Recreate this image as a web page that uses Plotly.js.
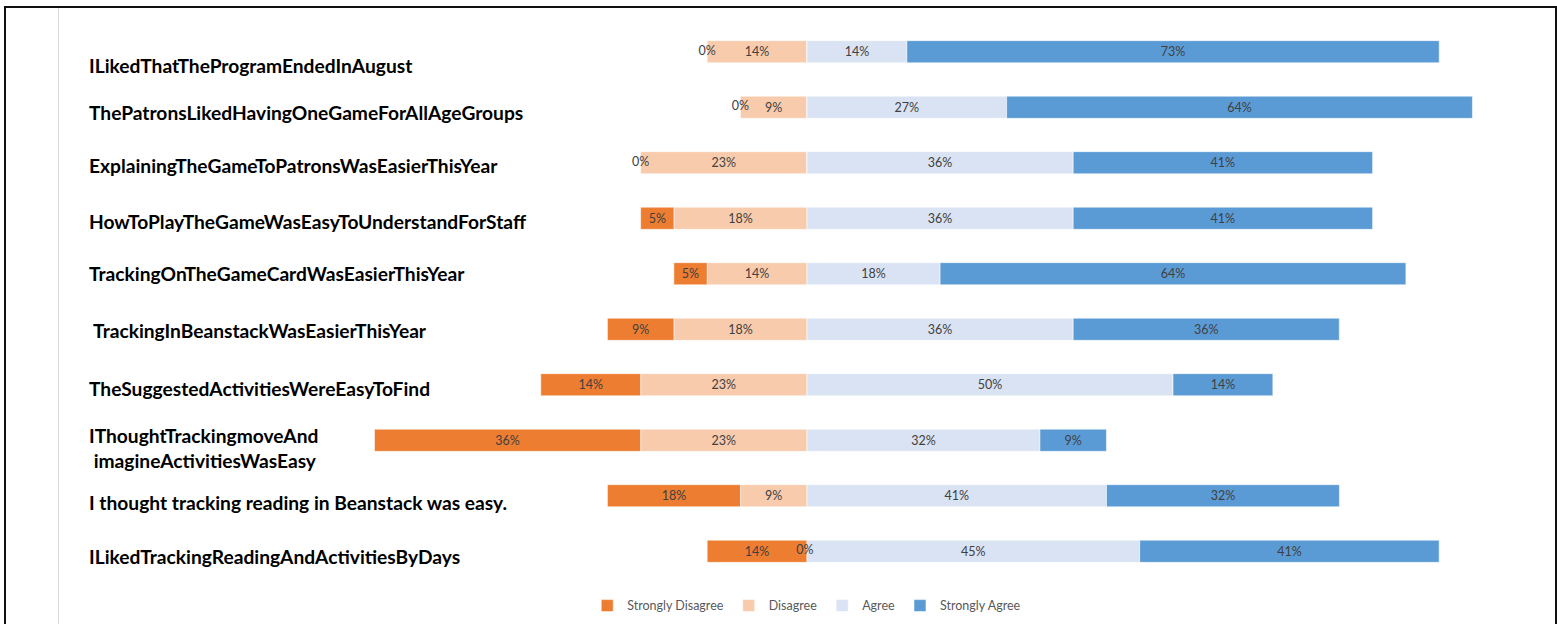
<!DOCTYPE html>
<html>
<head>
<meta charset="utf-8">
<script src="https://cdn.plot.ly/plotly-3.0.1.min.js"></script>
<style>
  html, body { margin: 0; padding: 0; background: #ffffff; }
  #wrap { position: relative; width: 1557px; height: 624px; overflow: hidden; }
  #chart { position: absolute; left: 0; top: 0; width: 1557px; height: 624px; }
  .frame { position: absolute; left: 4px; top: 6px; width: 1549px; height: 640px;
           border-left: 2px solid #111; border-top: 2px solid #111; border-right: 2px solid #111;
           pointer-events: none; }
  .vline { position: absolute; left: 58px; top: 8px; width: 1px; height: 620px; background: #d9d9d9; pointer-events: none; }
</style>
</head>
<body>
<div id="wrap">
  <div id="chart"></div>
  <div class="frame"></div>
  <div class="vline"></div>
</div>
<script>
// Statements (top to bottom)
const categories = [
  "ILikedThatTheProgramEndedInAugust",
  "ThePatronsLikedHavingOneGameForAllAgeGroups",
  "ExplainingTheGameToPatronsWasEasierThisYear",
  "HowToPlayTheGameWasEasyToUnderstandForStaff",
  "TrackingOnTheGameCardWasEasierThisYear",
  "\u00a0TrackingInBeanstackWasEasierThisYear",
  "TheSuggestedActivitiesWereEasyToFind",
  "IThoughtTrackingmoveAnd<br>\u00a0imagineActivitiesWasEasy",
  "I thought tracking reading in Beanstack was easy.",
  "ILikedTrackingReadingAndActivitiesByDays"
];
// Percent of responses per category
const stronglyDisagree = [0, 0, 0, 4.55, 4.55, 9.09, 13.64, 36.36, 18.18, 13.64];
const disagree         = [13.64, 9.09, 22.73, 18.18, 13.64, 18.18, 22.73, 22.73, 9.09, 0];
const agree            = [13.64, 27.27, 36.36, 36.36, 18.18, 36.36, 50.0, 31.82, 40.91, 45.45];
const stronglyAgree    = [72.73, 63.64, 40.91, 40.91, 63.64, 36.36, 13.64, 9.09, 31.82, 40.91];

const seriesNames = ["Strongly Disagree", "Disagree", "Agree", "Strongly Agree"];
const colors = ["#ED7D31", "#F8CBAD", "#DAE3F3", "#5B9BD5"];
// vertical nudge (px) of each category label, as placed in the original
const labelShift = [-14, -5, -3, -3, 0, -1, -4, -8, -7, -5];

const pct = v => Math.round(v) + "%";
const labelFont = { family: "Lato, 'Open Sans', sans-serif", size: 12.5, color: "#404040" };

function barTrace(vals, idx, sign) {
  return {
    type: "bar",
    orientation: "h",
    name: seriesNames[idx],
    y: categories,
    x: vals.map(v => sign * v),
    text: vals.map(v => v > 0 ? pct(v) : ""),
    textposition: "inside",
    insidetextanchor: "middle",
    constraintext: "none",
    textfont: labelFont,
    marker: { color: colors[idx], line: { color: "rgba(255,255,255,0.55)", width: 1 } },
    legendrank: idx + 1,
    hoverinfo: "name+text"
  };
}

// Zero-valued labels placed at the stack boundary (computed from data)
const zx = [], zy = [], zt = [];
categories.forEach((c, i) => {
  if (stronglyDisagree[i] === 0) { zx.push(-disagree[i]); zy.push(c); zt.push(pct(0)); }
  if (disagree[i] === 0) { zx.push(-0.3); zy.push(c); zt.push(pct(0)); }
});

const traces = [
  barTrace(disagree, 1, -1),
  barTrace(stronglyDisagree, 0, -1),
  barTrace(agree, 2, 1),
  barTrace(stronglyAgree, 3, 1),
  {
    type: "scatter", mode: "text", x: zx, y: zy, text: zt,
    textposition: "middle center", textfont: labelFont,
    showlegend: false, hoverinfo: "skip"
  }
];

const annotations = categories.map((c, i) => ({
  xref: "paper", yref: "y",
  x: 0, y: c,
  xanchor: "left", yanchor: "middle",
  xshift: 1, yshift: labelShift[i],
  text: c, align: "left", showarrow: false,
  font: { family: "Lato, 'Open Sans', sans-serif", size: 19.2, color: "#000000", weight: "bold" }
}));

const layout = {
  width: 1557, height: 624,
  margin: { l: 86, r: 15, t: 24, b: 45, autoexpand: false },
  paper_bgcolor: "rgba(0,0,0,0)",
  plot_bgcolor: "rgba(0,0,0,0)",
  barmode: "relative",
  bargap: 0.6,
  showlegend: true,
  annotations: annotations,
  xaxis: {
    range: [-98.5, 100.41],
    showticklabels: false, showgrid: false, zeroline: false, showline: false, ticks: "",
    fixedrange: true
  },
  yaxis: {
    autorange: "reversed",
    showticklabels: false,
    ticks: "", showline: false, showgrid: false, zeroline: false,
    fixedrange: true
  },
  legend: {
    orientation: "h",
    x: 0.495, xanchor: "center",
    y: -0.0486, yanchor: "middle",
    font: { family: "Lato, 'Open Sans', sans-serif", size: 12.5, color: "#595959" },
    itemwidth: 30,
    traceorder: "normal"
  }
};

Plotly.newPlot("chart", traces, layout, { displayModeBar: false, staticPlot: true });
</script>
</body>
</html>
